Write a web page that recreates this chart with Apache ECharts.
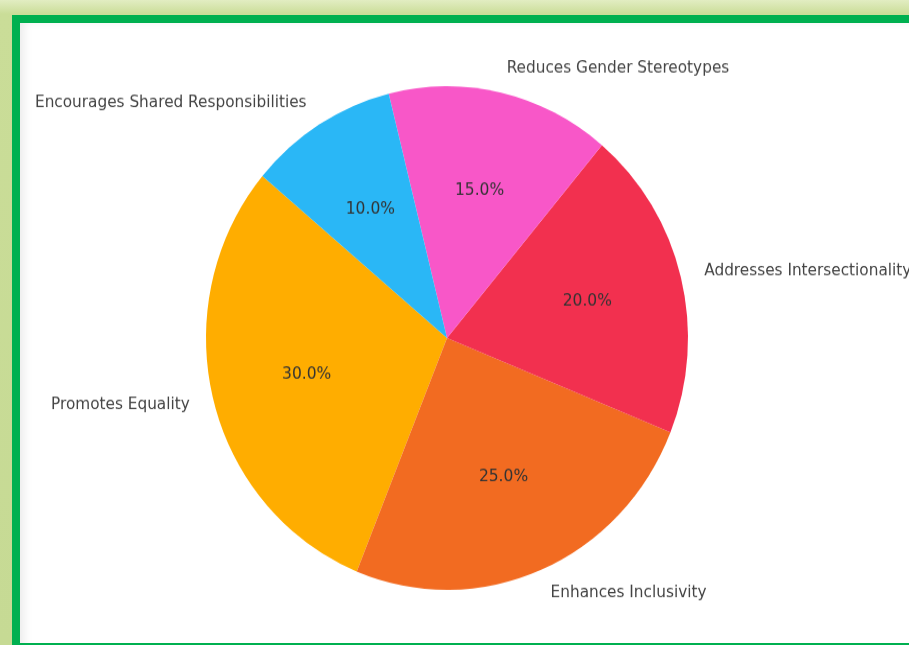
<!DOCTYPE html>
<html>
<head>
<meta charset="utf-8">
<script src="https://cdn.jsdelivr.net/npm/echarts@6/dist/echarts.min.js"></script>
<style>
  html, body { margin: 0; padding: 0; width: 909px; height: 645px; overflow: hidden; }
  body { background: linear-gradient(180deg, #e2edc2 0px, #cadd98 14px, #c6da94 100%); position: relative; }
  #frame { position: absolute; left: 12px; top: 15px; width: 920px; height: 620px;
           border: 8px solid #00b050; background: #ffffff;
           box-shadow: inset 12px 6px 10px -8px rgba(0,0,0,0.08); }
  #chart { position: absolute; left: 0; top: 0; width: 909px; height: 645px;
           transform: scaleY(1.045); transform-origin: 447px 338px; }
</style>
</head>
<body>
<div id="frame"></div>
<div id="chart"></div>
<script>
const categories = ['Promotes Equality', 'Enhances Inclusivity', 'Addresses Intersectionality', 'Reduces Gender Stereotypes', 'Encourages Shared Responsibilities'];
const values = [30, 25, 20, 15, 10];
const colors = ['#FFAD00', '#F26B21', '#F2304F', '#F857C8', '#2AB7F6'];

const R = 241;
const chart = echarts.init(document.getElementById('chart'), null, { renderer: 'canvas' });
const data = categories.map((c, i) => ({ name: c, value: values[i], itemStyle: { color: colors[i] } }));
const overlay = categories.map((c, i) => ({ name: c, value: values[i] }));

chart.setOption({
  backgroundColor: 'transparent',
  animation: false,
  series: [
    {
      type: 'pie',
      center: [447, 338],
      radius: [0, R],
      startAngle: 140,
      clockwise: false,
      avoidLabelOverlap: false,
      silent: true,
      data: data,
      label: {
        show: true,
        position: 'outside',
        color: '#444',
        fontFamily: 'DejaVu Sans',
        fontSize: 15.3,
        distanceToLabelLine: 0,
        formatter: '{b}'
      },
      labelLine: { show: false, length: R * 0.1, length2: 0 },
      itemStyle: { borderWidth: 0 }
    },
    {
      type: 'pie',
      center: [447, 338],
      radius: [R * 0.2 - 6, R],
      startAngle: 140,
      clockwise: false,
      avoidLabelOverlap: false,
      silent: true,
      data: overlay,
      itemStyle: { color: 'rgba(0,0,0,0)', borderWidth: 0 },
      label: {
        show: true,
        position: 'inside',
        color: '#333',
        fontFamily: 'DejaVu Sans',
        fontSize: 15.5,
        formatter: p => p.percent.toFixed(1) + '%'
      },
      labelLine: { show: false }
    }
  ]
});
</script>
</body>
</html>
